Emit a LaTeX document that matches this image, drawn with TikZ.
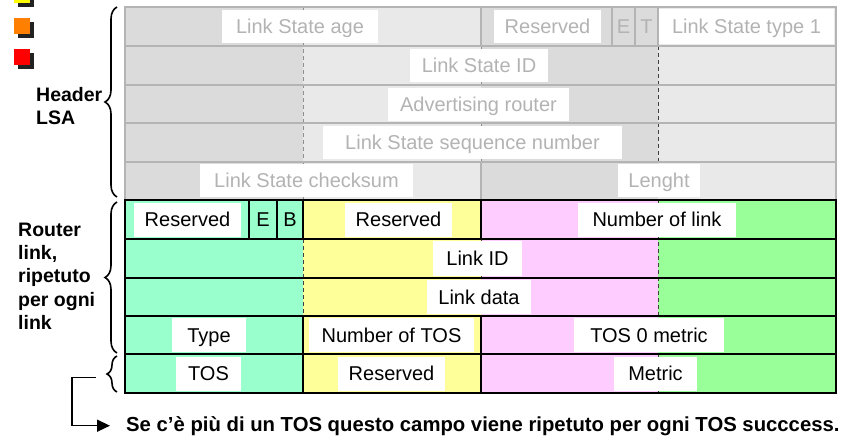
\documentclass[tikz,border=0pt]{standalone}
\usepackage{fontspec}
\setmainfont{Liberation Sans}
\usetikzlibrary{decorations.pathreplacing,arrows.meta}

\definecolor{hdark}{HTML}{DBDBDB}
\definecolor{hlight}{HTML}{E9E9E9}
\definecolor{hline}{HTML}{B4B4B4}
\definecolor{htext}{HTML}{B3B3B3}
\definecolor{aqua}{HTML}{99FFCC}
\definecolor{lyellow}{HTML}{FFFF99}
\definecolor{lpink}{HTML}{FFCCFF}
\definecolor{lgreen}{HTML}{99FF99}
\definecolor{dropshadow}{HTML}{222222}
\definecolor{mkyellow}{HTML}{FFFF00}
\definecolor{mkorange}{HTML}{FF8000}
\definecolor{mkred}{HTML}{FF0000}

\begin{document}
\begin{tikzpicture}[x=1pt,y=-1pt,
  font=\fontsize{20}{24}\selectfont,
  field/.style={fill=white, inner sep=0pt, minimum height=33pt, anchor=center,
    text height=14.4pt, text depth=0pt},
  hfield/.style={field, text=htext},
  hbit/.style={inner sep=0pt, text=htext, text height=14.4pt, text depth=0pt},
  rbit/.style={inner sep=0pt, text height=14.4pt, text depth=0pt},
  hgrid/.style={draw=hline, line width=2pt},
  rgrid/.style={draw=black, line width=2pt},
  hdash/.style={draw=hline!80!black, line width=0.9pt, dash pattern=on 4pt off 3pt},
  rdash/.style={draw=black!75, line width=0.9pt, dash pattern=on 4pt off 3pt},
  side/.style={anchor=north west, align=left, inner sep=0pt,
    font=\bfseries\fontsize{19.5}{23.3}\selectfont},
  bracket/.style={decorate, decoration={brace, amplitude=#1}, line width=1.6pt}]

\useasboundingbox (0,0) rectangle (857,439);

% --- legend squares with drop shadows ---
\foreach \yy/\col in {-13/mkyellow, 18/mkorange, 49/mkred}{
  \fill[dropshadow] (18,\yy+4) rectangle (34,\yy+20);
  \fill[\col] (14,\yy) rectangle (30,\yy+16);
}

% --- LSA header: byte backgrounds ---
\fill[hdark]  (125,7) rectangle (303,200);
\fill[hlight] (303,7) rectangle (481,200);
\fill[hdark]  (481,7) rectangle (658,200);
\fill[hlight] (658,7) rectangle (836,200);

% --- router link: byte backgrounds ---
\fill[aqua]    (125,200) rectangle (303,393);
\fill[lyellow] (303,200) rectangle (481,393);
\fill[lpink]   (481,200) rectangle (658,393);
\fill[lgreen]  (658,200) rectangle (836,393);

% --- byte boundaries (dashed) ---
\draw[hdash] (303,7) -- (303,200);
\draw[hdash] (481,45.5) -- (481,162);
\draw[rdash] (658,45.5) -- (658,200);
\draw[rdash] (303,239) -- (303,316);
\draw[rdash] (481,239) -- (481,316);
\draw[rdash] (658,200) -- (658,393);

% --- header fields ---
\node[hfield, minimum width=156pt] (lsage)  at (300,26.5)  {Link State age};
\node[hfield, minimum width=107pt] (hres)   at (547.5,26.5) {Reserved};
\node[hbit] (ebit) at (623.5,26.5) {E};
\node[hbit] (tbit) at (646.5,26.5) {T};
\node[hfield, minimum width=175pt, minimum height=35pt] (lstype) at (746.5,26.5) {Link State type 1};
\node[hfield, minimum width=138pt] (lsid)   at (479,65)    {Link State ID};
\node[hfield, minimum width=181pt] (advr)   at (478.5,104) {Advertising router};
\node[hfield, minimum width=299pt] (lsseq)  at (472.5,142.5) {Link State sequence number};
\node[hfield, minimum width=213pt] (lscks)  at (306.5,180.5) {Link State checksum};
\node[hfield, minimum width=82pt]  (lslen)  at (659,180.5) {Lenght};

% --- router link fields ---
\node[field, minimum width=107pt, minimum height=34pt] (rres1) at (187.5,219.5) {Reserved};
\node[rbit] (rebit) at (263,219.5) {E};
\node[rbit] (rbbit) at (290,219.5) {B};
\node[field, minimum width=107pt, minimum height=34pt] (rres2) at (398.5,219.5) {Reserved};
\node[field, minimum width=158pt, minimum height=34pt] (nlink) at (657,219.5) {Number of link};
\node[field, minimum width=89pt,  minimum height=35pt] (lid)   at (477.5,258.5) {Link ID};
\node[field, minimum width=104pt, minimum height=34pt] (ldata) at (479,297) {Link data};
\node[field, minimum width=74pt,  minimum height=34pt] (ltype) at (209,335) {Type};
\node[field, minimum width=165pt, minimum height=34pt] (ntos)  at (391.5,335) {Number of TOS};
\node[field, minimum width=150pt, minimum height=34pt] (tos0)  at (649,335) {TOS 0 metric};
\node[field, minimum width=65pt,  minimum height=34pt] (tos)   at (208.5,373.5) {TOS};
\node[field, minimum width=107pt, minimum height=34pt] (rres3) at (391.5,373.5) {Reserved};
\node[field, minimum width=83pt,  minimum height=34pt] (metr)  at (655.5,373.5) {Metric};

% --- header grid ---
\draw[hgrid] (125,200) -- (125,7) -- (836,7) -- (836,200);
\foreach \y in {45.5,84.5,123,162} \draw[hgrid] (125,\y) -- (836,\y);
\foreach \x in {481,612,635,658} \draw[hgrid] (\x,7) -- (\x,45.5);
\draw[hgrid] (481,162) -- (481,200);

% --- router link grid ---
\foreach \y in {239,278,316,354} \draw[rgrid] (125,\y) -- (836,\y);
\foreach \x in {249,277,303,481} \draw[rgrid] (\x,200) -- (\x,239);
\foreach \x in {303,481} \draw[rgrid] (\x,316) -- (\x,393);
\draw[rgrid, line width=2.6pt] (125,200) rectangle (836,393);

% --- side labels and braces ---
\node[side] (hdrlbl) at (36,87) {Header\\LSA};
\node[side] (rtrlbl) at (18,222.5) {Router\\link,\\ripetuto\\per ogni\\link};
\draw[bracket=12pt] (117,197) -- (117,7);
\draw[bracket=12pt] (117,353) -- (117,202);
\draw[bracket=10pt] (117,392) -- (117,356);
\coordinate (tostip) at (96,377.5);

% --- note about repeated TOS fields ---
\node[anchor=base west, inner sep=0pt, font=\bfseries\fontsize{20.3}{24}\selectfont]
  (note) at (126,431) {Se c’è più di un TOS questo campo viene ripetuto per ogni TOS succcess.};
\draw[line width=1.5pt, -{Triangle[length=13pt,width=12pt]}]
  (tostip) -- (72,377.5) |- ([xshift=-16pt]note.west);

\end{tikzpicture}
\end{document}
